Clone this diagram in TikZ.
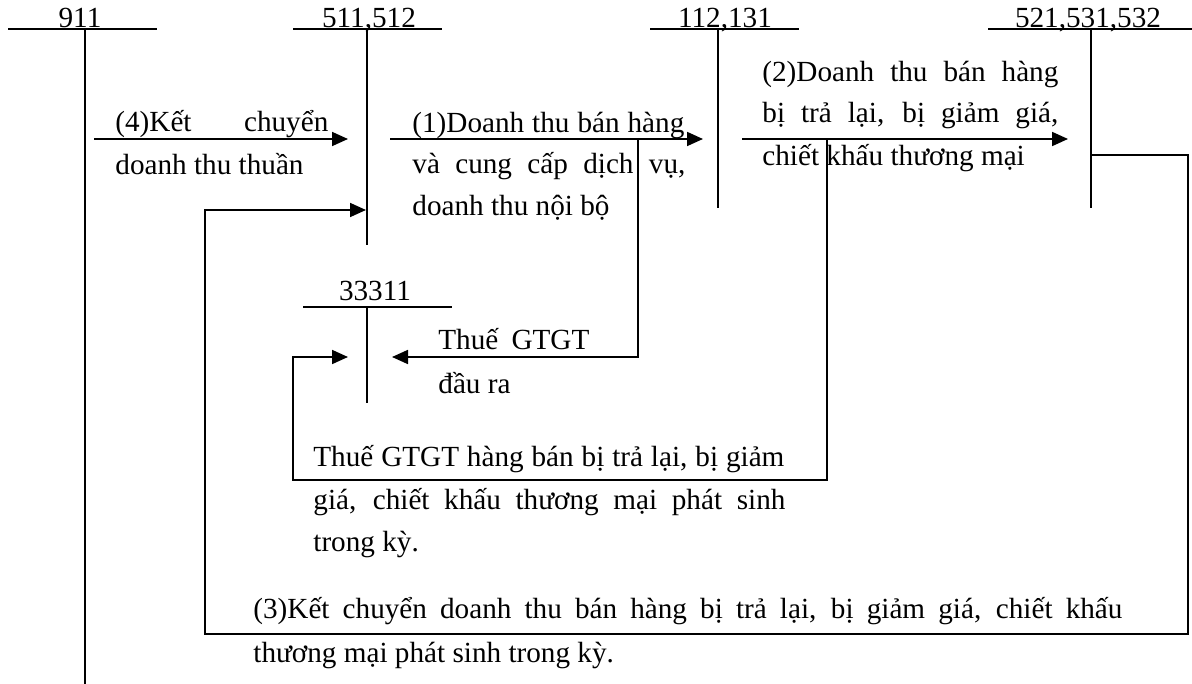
\documentclass[tikz,border=0pt]{standalone}
\usepackage{fontspec}
\setmainfont{Liberation Serif}
\usetikzlibrary{arrows.meta}
\newcommand{\jline}[2]{\makebox[#1][s]{#2}}
\begin{document}
\begin{tikzpicture}[x=0.5pt,y=-0.5pt,
  ln/.style={line width=0.9pt},
  arr/.style={line width=0.9pt,-{Triangle[length=8pt,width=7pt]}},
  txt/.style={anchor=base west,inner sep=0pt,font=\fontsize{14.6pt}{17pt}\selectfont},
  acct/.style={anchor=base,inner sep=0pt,font=\fontsize{14.6pt}{17pt}\selectfont}]
\useasboundingbox (0,0) rectangle (1192,684);

% ---- T-accounts ----
\node[acct] (l911) at (80,28) {911};
\coordinate (h911a) at (8,29);   \coordinate (h911b) at (157,29);
\coordinate (v911t) at (85,29);  \coordinate (v911b) at (85,684);
\draw[ln] (h911a) -- (h911b);
\draw[ln] (v911t) -- (v911b);

\node[acct] (l511) at (369,28) {511,512};
\coordinate (h511a) at (293,29); \coordinate (h511b) at (442,29);
\coordinate (v511t) at (367,29); \coordinate (v511b) at (367,245);
\draw[ln] (h511a) -- (h511b);
\draw[ln] (v511t) -- (v511b);

\node[acct] (l112) at (725,28) {112,131};
\coordinate (h112a) at (650,29); \coordinate (h112b) at (799,29);
\coordinate (v112t) at (718,29); \coordinate (v112b) at (718,208);
\draw[ln] (h112a) -- (h112b);
\draw[ln] (v112t) -- (v112b);

\node[acct] (l521) at (1088,28) {521,531,532};
\coordinate (h521a) at (988,29); \coordinate (h521b) at (1192,29);
\coordinate (v521t) at (1091,29); \coordinate (v521b) at (1091,208);
\draw[ln] (h521a) -- (h521b);
\draw[ln] (v521t) -- (v521b);

\node[acct] (l333) at (375,300) {33311};
\coordinate (h333a) at (303,307); \coordinate (h333b) at (452,307);
\coordinate (v333t) at (367,307); \coordinate (v333b) at (367,403);
\draw[ln] (h333a) -- (h333b);
\draw[ln] (v333t) -- (v333b);

% ---- arrows ----
\coordinate (a4s) at (94,139);   \coordinate (a4e) at (348,139);
\draw[arr] (a4s) -- (a4e);
\coordinate (a1s) at (390,139);  \coordinate (a1e) at (703,139);
\draw[arr] (a1s) -- (a1e);
\coordinate (a2s) at (742,139);  \coordinate (a2e) at (1068,139);
\draw[arr] (a2s) -- (a2e);

% output VAT
\coordinate (t1s) at (638,139); \coordinate (t1c) at (638,357); \coordinate (t1e) at (392,357);
\draw[arr] (t1s) -- (t1c) -- (t1e);

% VAT on returns
\coordinate (t2s) at (827,139); \coordinate (t2c1) at (827,480);
\coordinate (t2c2) at (293,480); \coordinate (t2c3) at (293,357); \coordinate (t2e) at (348,357);
\draw[arr] (t2s) -- (t2c1) -- (t2c2) -- (t2c3) -- (t2e);

% (3) transfer
\coordinate (k3s) at (1091,155); \coordinate (k3c1) at (1188,155);
\coordinate (k3c2) at (1188,634); \coordinate (k3c3) at (205,634);
\coordinate (k3c4) at (205,210); \coordinate (k3e) at (366,210);
\draw[arr] (k3s) -- (k3c1) -- (k3c2) -- (k3c3) -- (k3c4) -- (k3e);

% ---- texts ----
\node[txt] (t4a) at (115,132) {\jline{106.5pt}{(4)Kết chuyển}};
\node[txt] (t4b) at (115,175) {doanh thu thuần};

\node[txt] (t1a) at (412,133) {\jline{136pt}{(1)Doanh thu bán hàng}};
\node[txt] (t1b) at (412,174) {\jline{136.5pt}{và cung cấp dịch vụ,}};
\node[txt] (t1c) at (412,215) {doanh thu nội bộ};

\node[txt] (t2a) at (762,82)  {\jline{148pt}{(2)Doanh thu bán hàng}};
\node[txt] (t2b) at (762,123) {\jline{148pt}{bị trả lại, bị giảm giá,}};
\node[txt] (t2c) at (762,166) {chiết khấu thương mại};

\node[txt] (tva) at (438,349) {\jline{75.5pt}{Thuế GTGT}};
\node[txt] (tvb) at (438,393) {đầu ra};

\node[txt] (tra) at (313,466) {\jline{235.5pt}{Thuế GTGT hàng bán bị trả lại, bị giảm}};
\node[txt] (trb) at (313,509) {\jline{236pt}{giá, chiết khấu thương mại phát sinh}};
\node[txt] (trc) at (313,551) {trong kỳ.};

\node[txt] (t3a) at (253,618) {\jline{434.5pt}{(3)Kết chuyển doanh thu bán hàng bị trả lại, bị giảm giá, chiết khấu}};
\node[txt] (t3b) at (253,662) {thương mại phát sinh trong kỳ.};
\end{tikzpicture}
\end{document}
